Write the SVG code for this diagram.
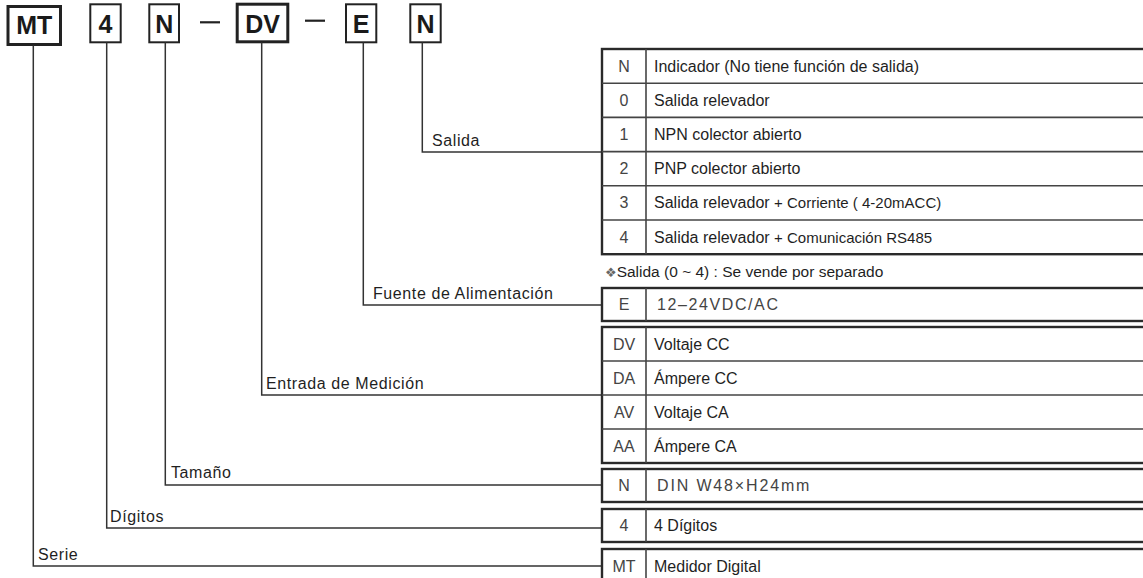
<svg xmlns="http://www.w3.org/2000/svg" width="1143" height="578" viewBox="0 0 1143 578">
<style>
.code{fill:#fff;stroke:#222;stroke-width:2}
.thick{stroke-width:3}
.ct{font-family:"Liberation Sans",Arial,sans-serif;font-weight:bold;font-size:25px;fill:#1a1a1a;text-anchor:middle}
.dash{stroke:#222;stroke-width:2.2}
.conn{fill:none;stroke:#333;stroke-width:1.5}
.lbl{font-family:"Liberation Sans",Arial,sans-serif;font-size:16px;letter-spacing:0.6px;fill:#1f1f1f}
.tb{fill:#fff;stroke:#2a2a2a;stroke-width:2.4}
.sep{stroke:#444;stroke-width:1.6}
.k{font-family:"Liberation Sans",Arial,sans-serif;font-size:16px;fill:#444;text-anchor:middle}
.d{font-family:"Liberation Sans",Arial,sans-serif;font-size:16px;fill:#1f1f1f}
.s{font-size:15px}
.dl{font-family:"Liberation Sans",Arial,sans-serif;font-size:16px;fill:#444}
.note{font-family:"Liberation Sans",Arial,sans-serif;font-size:15.5px;fill:#1f1f1f}
</style>
<rect width="1143" height="578" fill="#fff"/>

<!-- code boxes -->
<g id="code-MT"><rect class="code thick" x="8" y="6.5" width="52.5" height="38"/><text class="ct" x="34.3" y="34">MT</text></g>
<g id="code-4"><rect class="code" x="90.3" y="4.3" width="30.4" height="38"/><text class="ct" x="105.5" y="33">4</text></g>
<g id="code-N"><rect class="code" x="149.3" y="4.3" width="29.7" height="38"/><text class="ct" x="164.2" y="33">N</text></g>
<line class="dash" x1="200" y1="22.3" x2="220" y2="22.3"/>
<g id="code-DV"><rect class="code thick" x="237.2" y="4.2" width="50.6" height="37.6"/><text class="ct" x="262.5" y="33">DV</text></g>
<line class="dash" x1="305" y1="20.7" x2="325" y2="20.7"/>
<g id="code-E"><rect class="code" x="346" y="4.3" width="30.3" height="38"/><text class="ct" x="361.2" y="33">E</text></g>
<g id="code-N2"><rect class="code" x="410.3" y="4.3" width="30.4" height="38"/><text class="ct" x="425.5" y="33">N</text></g>

<!-- connectors -->
<g id="connectors">
<path class="conn" d="M33.3,45.5 V566 H602"/>
<path class="conn" d="M106.7,42.5 V528 H602"/>
<path class="conn" d="M165.3,42.5 V485 H602"/>
<path class="conn" d="M261.7,42.5 V395 H602"/>
<path class="conn" d="M363.3,42.5 V305 H602"/>
<path class="conn" d="M422.3,42.5 V152 H602"/>
<text class="lbl" x="432" y="145.5">Salida</text>
<text class="lbl" x="373" y="299">Fuente de Alimentación</text>
<text class="lbl" x="266" y="389">Entrada de Medición</text>
<text class="lbl" x="171" y="478">Tamaño</text>
<text class="lbl" x="110" y="522">Dígitos</text>
<text class="lbl" x="38" y="560">Serie</text>
</g>

<!-- Salida table -->
<g id="tbl-salida">
<rect class="tb" x="602" y="49" width="560" height="205.2"/>
<line class="sep" x1="646" y1="49" x2="646" y2="254.2"/>
<line class="sep" x1="602" y1="83.2" x2="1150" y2="83.2"/>
<line class="sep" x1="602" y1="117.4" x2="1150" y2="117.4"/>
<line class="sep" x1="602" y1="151.6" x2="1150" y2="151.6"/>
<line class="sep" x1="602" y1="185.8" x2="1150" y2="185.8"/>
<line class="sep" x1="602" y1="220" x2="1150" y2="220"/>
<text class="k" x="624" y="71.6">N</text><text class="d" x="654" y="71.6">Indicador (No tiene función de salida)</text>
<text class="k" x="624" y="105.8">0</text><text class="d" x="654" y="105.8">Salida relevador</text>
<text class="k" x="624" y="140">1</text><text class="d" x="654" y="140">NPN colector abierto</text>
<text class="k" x="624" y="174.2">2</text><text class="d" x="654" y="174.2">PNP colector abierto</text>
<text class="k" x="624" y="208.4">3</text><text class="d" x="654" y="208.4">Salida relevador <tspan class="s">+ Corriente ( 4-20mACC)</tspan></text>
<text class="k" x="624" y="242.6">4</text><text class="d" x="654" y="242.6">Salida relevador <tspan class="s">+ Comunicación RS485</tspan></text>
</g>
<text class="note" x="605" y="277"><tspan font-size="13" fill="#666" font-family="DejaVu Sans,sans-serif">❖</tspan>Salida (0 ~ 4)  : Se vende por separado</text>

<!-- E table -->
<g id="tbl-fuente">
<rect class="tb" x="602" y="288" width="560" height="33"/>
<line class="sep" x1="646" y1="288" x2="646" y2="321"/>
<text class="k" x="624" y="310">E</text><text class="dl" x="657" y="310" letter-spacing="1.6">12–24VDC/AC</text>
</g>

<!-- DV table -->
<g id="tbl-entrada">
<rect class="tb" x="602" y="327" width="560" height="136"/>
<line class="sep" x1="646" y1="327" x2="646" y2="463"/>
<line class="sep" x1="602" y1="361" x2="1150" y2="361"/>
<line class="sep" x1="602" y1="395" x2="1150" y2="395"/>
<line class="sep" x1="602" y1="429" x2="1150" y2="429"/>
<text class="k" x="624" y="349.5">DV</text><text class="d" x="654" y="349.5">Voltaje CC</text>
<text class="k" x="624" y="383.5">DA</text><text class="d" x="654" y="383.5">Ámpere CC</text>
<text class="k" x="624" y="417.5">AV</text><text class="d" x="654" y="417.5">Voltaje CA</text>
<text class="k" x="624" y="451.5">AA</text><text class="d" x="654" y="451.5">Ámpere CA</text>
</g>

<g id="tbl-tamano">
<rect class="tb" x="602" y="469" width="560" height="33"/>
<line class="sep" x1="646" y1="469" x2="646" y2="502"/>
<text class="k" x="624" y="491">N</text><text class="dl" x="657" y="491" letter-spacing="1.85">DIN W48×H24mm</text>
</g>

<g id="tbl-digitos">
<rect class="tb" x="602" y="509" width="560" height="33"/>
<line class="sep" x1="646" y1="509" x2="646" y2="542"/>
<text class="k" x="624" y="531">4</text><text class="d" x="654" y="531">4 Dígitos</text>
</g>

<g id="tbl-serie">
<rect class="tb" x="602" y="549" width="560" height="40"/>
<line class="sep" x1="646" y1="549" x2="646" y2="589"/>
<text class="k" x="624" y="571.5">MT</text><text class="d" x="654" y="571.5">Medidor Digital</text>
</g>
</svg>
